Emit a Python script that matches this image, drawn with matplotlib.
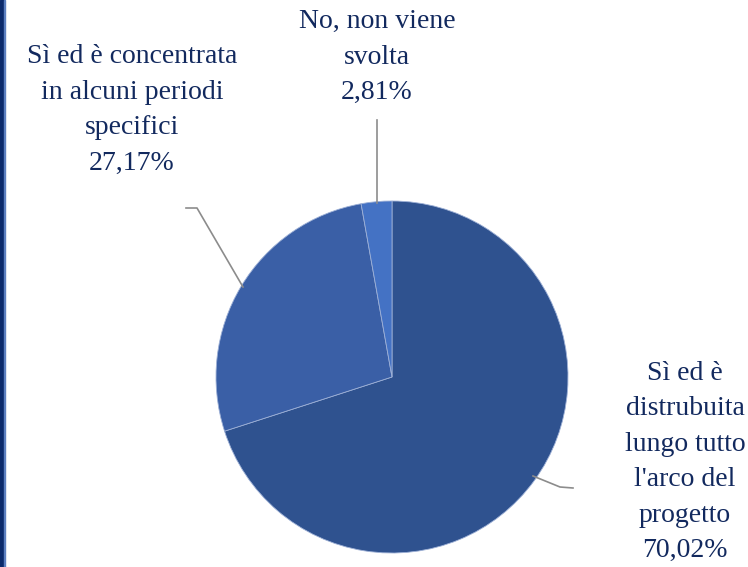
import matplotlib
matplotlib.use("Agg")
import matplotlib.pyplot as plt

labels = ["Sì ed è\ndistrubuita\nlungo tutto\nl'arco del\nprogetto",
          "Sì ed è concentrata\nin alcuni periodi\nspecifici",
          "No, non viene\nsvolta"]
values = [70.02, 27.17, 2.81]
pct_text = ["70,02%", "27,17%", "2,81%"]
colors = ["#2F528F", "#3A5FA6", "#4472C4"]

W, H = 748, 567
fig = plt.figure(figsize=(W / 100, H / 100), dpi=100, facecolor="white")
ax = fig.add_axes([0, 0, 1, 1])

cx, cy, r = 392, H - 377, 176
ax.pie(values, colors=colors, startangle=90, counterclock=False,
       center=(cx, cy), radius=r, frame=True,
       wedgeprops=dict(edgecolor="#9db0d6", linewidth=0.6))
ax.set_xlim(0, W)
ax.set_ylim(0, H)
ax.set_aspect("equal")
ax.axis("off")

# left border stripes
ax.add_patch(plt.Rectangle((0, 0), 4, H, color="#0B2A6B", clip_on=False))
ax.add_patch(plt.Rectangle((4, 0), 1.5, H, color="#5B7FC0", clip_on=False))

txt = dict(family="Liberation Serif", fontsize=20, color="#12295E",
           ha="center", va="center", linespacing=1.55)
# label positions (pixel, top-origin)
pos = [(685, 462), (132, 110), (377, 57)]
for lab, p, (x, y) in zip(labels, pct_text, pos):
    ax.text(x, H - y, lab + "\n" + p, **txt)

# leader lines
lc = dict(color="#8C8C8C", lw=1.2)
ax.plot([533, 560, 573], [H - 476, H - 487, H - 488], **lc)
ax.plot([186, 197, 243], [H - 208, H - 208, H - 287], **lc)
ax.plot([377, 377], [H - 120, H - 203], **lc)

fig.savefig("out.png", dpi=100, facecolor="white")
